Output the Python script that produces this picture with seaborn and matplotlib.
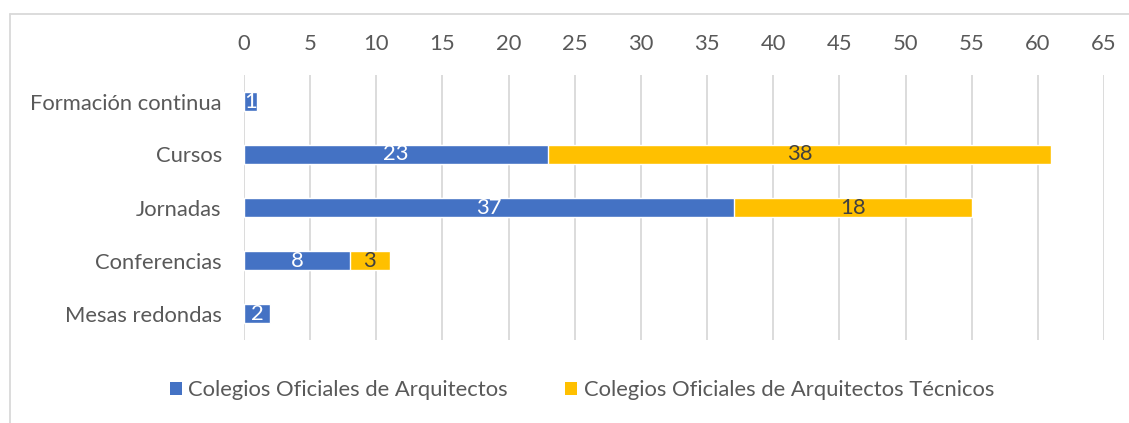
import matplotlib
matplotlib.use("Agg")
import matplotlib.pyplot as plt
from matplotlib.lines import Line2D
from matplotlib.patches import Patch
import seaborn as sns
import pandas as pd

categories = ["Formación continua", "Cursos", "Jornadas", "Conferencias", "Mesas redondas"]
arquitectos = [1, 23, 37, 8, 2]
tecnicos = [0, 38, 18, 3, 0]
series_names = ["Colegios Oficiales de Arquitectos", "Colegios Oficiales de Arquitectos Técnicos"]
ticks = list(range(0, 70, 5))

BLUE = "#4472C4"
YELLOW = "#FFC000"
TEXT = "#595959"
GRID = "#D9D9D9"
FS = 15.8

sns.set_theme(style="white")
plt.rcParams["font.family"] = ["Lato", "DejaVu Sans"]

df = pd.DataFrame({"cat": categories, "a": arquitectos, "b": tecnicos})
df["total"] = df["a"] + df["b"]

fig = plt.figure(figsize=(11.29, 4.23), dpi=100)
ax = fig.add_axes([244 / 1129, 1 - 340 / 423, (1104 - 244) / 1129, (340 - 75) / 423])

# stacked bars: the total in yellow, the first series drawn over it in blue
sns.barplot(data=df, y="cat", x="total", color=YELLOW, saturation=1, width=0.35,
            orient="h", ax=ax, zorder=2)
sns.barplot(data=df, y="cat", x="a", color=BLUE, saturation=1, width=0.35,
            orient="h", ax=ax, zorder=3)

for i, (a, b) in enumerate(zip(arquitectos, tecnicos)):
    ax.text(a / 2, i, str(a), ha="center", va="center", color="white",
            fontsize=FS, zorder=5)
    if b:
        ax.text(a + b / 2, i, str(b), ha="center", va="center", color="#404040",
                fontsize=FS, zorder=5)

ax.set_xlim(0, 65)
ax.set_ylim(4.5, -0.5)
ax.set_xticks(ticks)
ax.xaxis.tick_top()
ax.tick_params(axis="x", length=0, pad=15, labelsize=FS, labelcolor=TEXT)
ax.tick_params(axis="y", length=0, pad=16, labelsize=FS, labelcolor=TEXT)
ax.set_xlabel("")
ax.set_ylabel("")
ax.grid(axis="x", color=GRID, linewidth=1.3, zorder=0)
ax.set_axisbelow(True)
for s in ax.spines.values():
    s.set_visible(False)

handles = [Patch(facecolor=BLUE, edgecolor="none"), Patch(facecolor=YELLOW, edgecolor="none")]
leg = fig.legend(handles, series_names, loc="center", bbox_to_anchor=(582 / 1129, 1 - 390 / 423),
                 ncol=2, frameon=False, fontsize=FS, handlelength=0.55, handleheight=0.55,
                 handletextpad=0.3, columnspacing=2.6, labelcolor=TEXT)

# chart border
fig.add_artist(Line2D([10 / 1129, 1.0], [1 - 14 / 423, 1 - 14 / 423], color=GRID, linewidth=1.3,
                      transform=fig.transFigure))
fig.add_artist(Line2D([10 / 1129, 10 / 1129], [1 - 14 / 423, 0], color=GRID, linewidth=1.3,
                      transform=fig.transFigure))

fig.savefig("out.png", dpi=100)
